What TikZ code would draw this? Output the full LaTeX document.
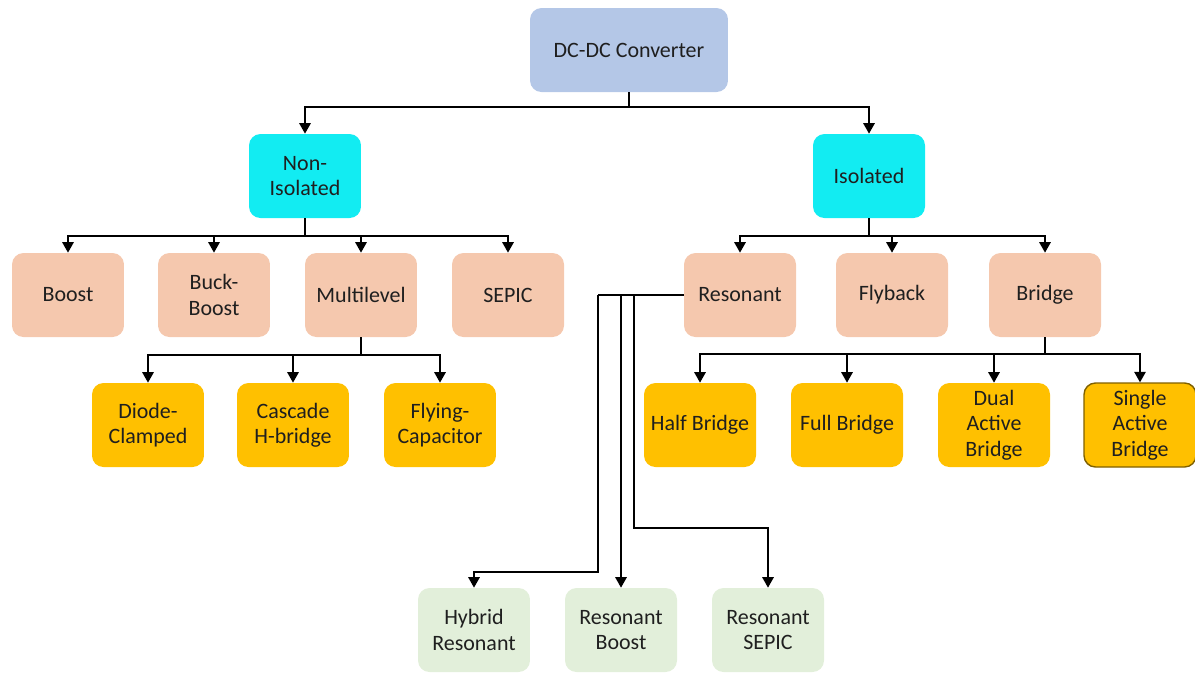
\documentclass[tikz,border=0pt]{standalone}
\usepackage{fontspec}
\setmainfont{Carlito}
\usetikzlibrary{arrows.meta}

\definecolor{topblue}{HTML}{B4C7E7}
\definecolor{cyanbox}{HTML}{12ECF2}
\definecolor{salmon}{HTML}{F5C8AE}
\definecolor{amber}{HTML}{FFC000}
\definecolor{palegreen}{HTML}{E2EFDA}
\definecolor{amberdark}{HTML}{7F6000}

\begin{document}
\begin{tikzpicture}[x=0.02cm,y=-0.02cm,box/.style={rectangle,rounded corners=6.5pt,minimum width=2.24cm,minimum height=1.68cm,inner sep=1pt,align=center,text=black!88,font=\fontsize{12.5}{14.5}\selectfont},root/.style={box,fill=topblue,minimum width=3.96cm},kind/.style={box,fill=cyanbox},topo/.style={box,fill=salmon},sub/.style={box,fill=amber},res/.style={box,fill=palegreen},link/.style={draw,line width=1pt},arr/.style={link,-{Triangle[length=6pt,width=6.5pt]}}]
\useasboundingbox (0,0) rectangle (1195,674);
\node[root] (dcdc) at (629,50) {DC-DC Converter};
\node[kind] (noniso) at (305,176) {Non-\\Isolated};
\node[kind] (iso) at (869,176) {Isolated};
\node[topo] (boost) at (68,295) {Boost};
\node[topo] (buckboost) at (214,295) {Buck-\\Boost};
\node[topo] (multi) at (361,295) {Multilevel};
\node[topo] (sepic) at (508,295) {SEPIC};
\node[topo] (reson) at (740,295) {Resonant};
\node[topo] (flyback) at (892,295) {Flyback};
\node[topo] (bridge) at (1045,295) {Bridge};
\node[sub] (diode) at (148,425) {Diode-\\Clamped};
\node[sub] (cascade) at (293,425) {Cascade\\H-bridge};
\node[sub] (flying) at (440,425) {Flying-\\Capacitor};
\node[sub] (half) at (700,425) {Half Bridge};
\node[sub] (full) at (847,425) {Full Bridge};
\node[sub] (dab) at (994,425) {Dual\\Active\\Bridge};
\node[sub,draw=amberdark,line width=0.8pt] (sab) at (1140,425) {Single\\Active\\Bridge};
\node[res] (hybrid) at (474,630) {Hybrid\\Resonant};
\node[res] (rboost) at (621,630) {Resonant\\Boost};
\node[res] (rsepic) at (768,630) {Resonant\\SEPIC};
% top level
\draw[arr] (dcdc.south) -- ++(0,15) -| (noniso.north);
\draw[arr] (dcdc.south) -- ++(0,15) -| (iso.north);
% non-isolated family
\foreach \t in {boost,buckboost,multi,sepic}
  \draw[arr] (noniso.south) -- ++(0,18) -| (\t.north);
\foreach \t in {diode,cascade,flying}
  \draw[arr] (multi.south) -- ++(0,18) -| (\t.north);
% isolated family
\foreach \t in {reson,flyback,bridge}
  \draw[arr] (iso.south) -- ++(0,18) -| (\t.north);
\foreach \t in {half,full,dab,sab}
  \draw[arr] (bridge.south) -- ++(0,17) -| (\t.north);
% resonant branches
\coordinate (rleft) at (598,295);
\coordinate (rright) at (634,295);
\draw[link] (reson.west) -- (rleft);
\draw[arr] (rleft) -- ++(0,277) -| (hybrid.north);
\draw[arr] (rboost.north |- reson.west) -- (rboost.north);
\draw[arr] (rright) -- ++(0,233) -| (rsepic.north);
\end{tikzpicture}
\end{document}
